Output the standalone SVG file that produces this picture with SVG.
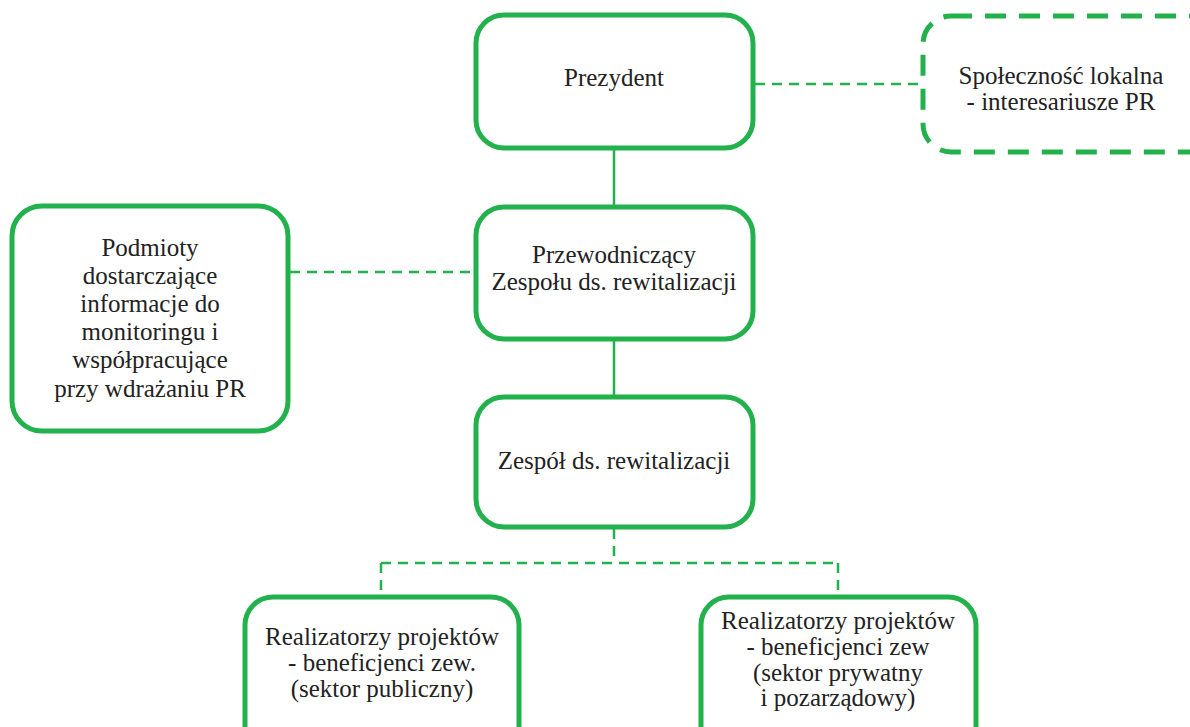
<svg xmlns="http://www.w3.org/2000/svg" width="1190" height="727" viewBox="0 0 1190 727">
<style>
.box{fill:#fff;stroke:#23b14d;stroke-width:5}
.dbox{fill:#fff;stroke:#23b14d;stroke-width:5;stroke-dasharray:21 13}
.solid{stroke:#23b14d;stroke-width:2.5;fill:none}
.dash{stroke:#23b14d;stroke-width:2.5;fill:none;stroke-dasharray:10 7}
text{font-family:"Liberation Serif","DejaVu Serif",serif;font-size:25px;fill:#222;text-anchor:middle}
</style>
<rect width="1190" height="727" fill="#fff"/>
<g id="connectors">
<line class="solid" x1="614" y1="148" x2="614" y2="207"/>
<line class="solid" x1="614" y1="339" x2="614" y2="397"/>
<line class="dash" x1="755" y1="84" x2="922" y2="84"/>
<line class="dash" x1="290" y1="272" x2="474" y2="272"/>
<path class="dash" d="M614 529 V563 M381 563 H838 M381 563 V595 M838 563 V595"/>
</g>
<g id="prezydent"><rect class="box" x="476" y="15" width="277" height="133" rx="28"/><text x="614" y="86">Prezydent</text></g>
<g id="spolecznosc"><rect class="dbox" x="923" y="16" width="300" height="136" rx="28"/><text x="1061" y="84">Społeczność lokalna</text><text x="1061" y="110">- interesariusze PR</text></g>
<g id="przewodniczacy"><rect class="box" x="476" y="207" width="277" height="132" rx="28"/><text x="614" y="263">Przewodniczący</text><text x="614" y="290">Zespołu ds. rewitalizacji</text></g>
<g id="podmioty"><rect class="box" x="12" y="206" width="276" height="225" rx="30"/>
<text x="150" y="256">Podmioty</text><text x="150" y="284">dostarczające</text><text x="150" y="312">informacje do</text><text x="150" y="340">monitoringu  i</text><text x="150" y="368">współpracujące</text><text x="150" y="397">przy wdrażaniu PR</text></g>
<g id="zespol"><rect class="box" x="476" y="397" width="277" height="130" rx="28"/><text x="614" y="469">Zespół ds. rewitalizacji</text></g>
<g id="realizatorzy-pub"><rect class="box" x="245" y="597" width="274" height="160" rx="28"/><text x="382" y="645">Realizatorzy projektów</text><text x="382" y="671">- beneficjenci zew.</text><text x="382" y="697">(sektor publiczny)</text></g>
<g id="realizatorzy-pryw"><rect class="box" x="701" y="597" width="275" height="160" rx="28"/><text x="838" y="629">Realizatorzy projektów</text><text x="838" y="655">- beneficjenci zew</text><text x="838" y="681">(sektor prywatny</text><text x="838" y="706">i pozarządowy)</text></g>
</svg>
